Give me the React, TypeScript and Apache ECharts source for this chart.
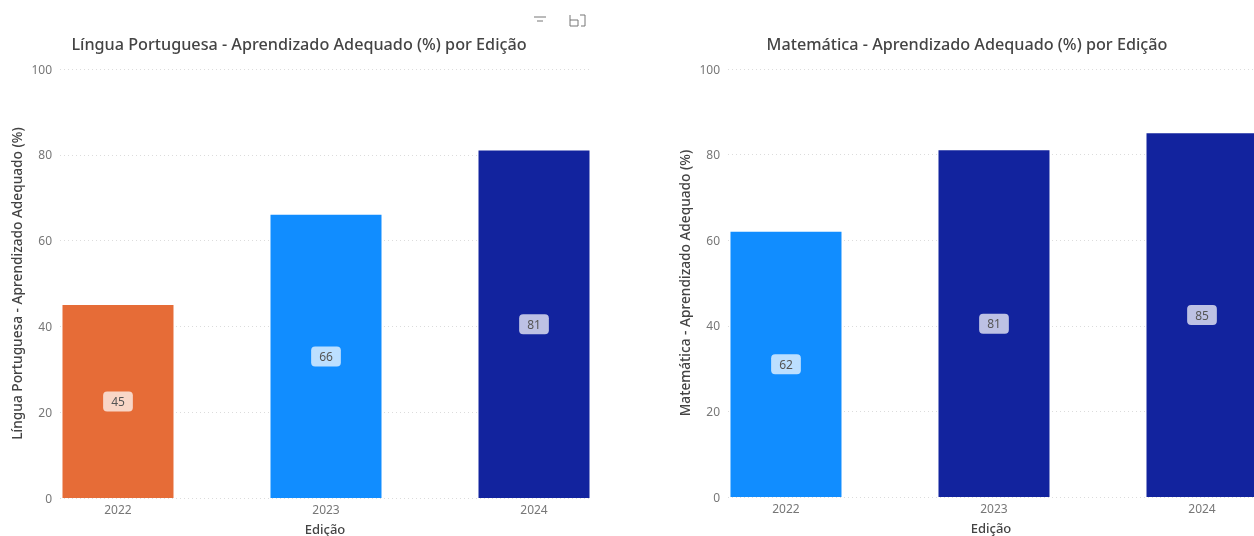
import React, { useEffect, useRef } from "react";
import * as echarts from "echarts";

const editions = ["2022", "2023", "2024"];
const portuguesValues = [45, 66, 81];
const matematicaValues = [62, 81, 85];
const portuguesColors = ["#E66C37", "#118DFF", "#12239E"];
const matematicaColors = ["#118DFF", "#12239E", "#12239E"];
const portuguesTitle = "Língua Portuguesa - Aprendizado Adequado (%) por Edição";
const matematicaTitle = "Matemática - Aprendizado Adequado (%) por Edição";
const portuguesAxis = "Língua Portuguesa - Aprendizado Adequado (%)";
const matematicaAxis = "Matemática - Aprendizado Adequado (%)";
const xAxisName = "Edição";

const FONT = "Noto Sans";

function xAxis(gridIndex: number, min: number, max: number, nameGap: number) {
  return {
    type: "value",
    gridIndex,
    min,
    max,
    name: xAxisName,
    nameLocation: "middle",
    nameGap,
    nameTextStyle: { color: "#444", fontSize: 13, fontWeight: 500, fontFamily: FONT },
    splitLine: { show: false },
    axisLine: { show: false },
    axisTick: { show: false },
    axisLabel: {
      customValues: [0, 1, 2],
      formatter: (v: number) => editions[v],
      color: "#777",
      fontSize: 12,
      margin: 5,
      fontFamily: FONT,
    },
  };
}

function yAxis(gridIndex: number, name: string, nameGap: number) {
  return {
    type: "value",
    gridIndex,
    min: 0,
    max: 100,
    interval: 20,
    name,
    nameLocation: "middle",
    nameGap,
    nameTextStyle: { color: "#444", fontSize: 13.7, fontWeight: 500, fontFamily: FONT },
    axisLine: { show: false },
    axisTick: { show: false },
    axisLabel: { color: "#777", fontSize: 12, margin: 8, fontFamily: FONT },
    splitLine: { lineStyle: { color: "#dcdcdc", type: [1, 3], width: 1 } },
  };
}

function barSeries(index: number, values: number[], colors: string[]) {
  return {
    type: "bar",
    xAxisIndex: index,
    yAxisIndex: index,
    barWidth: 111,
    data: values.map((v, i) => ({
      value: [i, v],
      itemStyle: { color: colors[i] },
    })),
    label: {
      show: true,
      position: "inside",
      formatter: (p: any) => String(p.value[1]),
      color: "#555",
      fontSize: 12,
      fontFamily: FONT,
      backgroundColor: "rgba(255,255,255,0.72)",
      borderRadius: 4,
      padding: [4, 8, 4, 8],
    },
  };
}

export default function App() {
  const ref = useRef<HTMLDivElement>(null);
  useEffect(() => {
    document.body.style.margin = "0";
    const chart = echarts.init(ref.current!, null, { renderer: "svg" });
    const icon = { stroke: "#777", lineWidth: 1 };
    chart.setOption({
      animation: false,
      backgroundColor: "#fff",
      title: [
        {
          text: portuguesTitle,
          left: 294,
          top: 28,
          textAlign: "center",
          textStyle: { color: "#444", fontSize: 16.2, fontWeight: 500, fontFamily: FONT, lineHeight: 22 },
        },
        {
          text: matematicaTitle,
          left: 962,
          top: 28,
          textAlign: "center",
          textStyle: { color: "#444", fontSize: 16.2, fontWeight: 500, fontFamily: FONT, lineHeight: 22 },
        },
      ],
      grid: [
        { left: 60, width: 530, top: 69, height: 429, outerBoundsMode: "none" },
        { left: 728, width: 526, top: 69, height: 428, outerBoundsMode: "none" },
      ],
      xAxis: [xAxis(0, -0.2788, 2.2692, 24), xAxis(1, -0.2788, 2.25, 24)],
      yAxis: [yAxis(0, portuguesAxis, 37), yAxis(1, matematicaAxis, 37)],
      series: [
        barSeries(0, portuguesValues, portuguesColors),
        barSeries(1, matematicaValues, matematicaColors),
      ],
      graphic: [
        { type: "line", shape: { x1: 534, y1: 17, x2: 546, y2: 17 }, style: icon },
        { type: "line", shape: { x1: 537, y1: 21, x2: 543, y2: 21 }, style: icon },
        { type: "polyline", shape: { points: [[570, 15], [570, 26], [578, 26], [578, 20], [570, 20]] }, style: { ...icon, fill: "none" } },
        { type: "polyline", shape: { points: [[580, 15], [585, 15], [585, 26], [581, 26]] }, style: { ...icon, fill: "none" } },
      ],
    });
    return () => chart.dispose();
  }, []);
  return <div ref={ref} style={{ width: 1254, height: 536, filter: "blur(0.5px)" }} />;
}
